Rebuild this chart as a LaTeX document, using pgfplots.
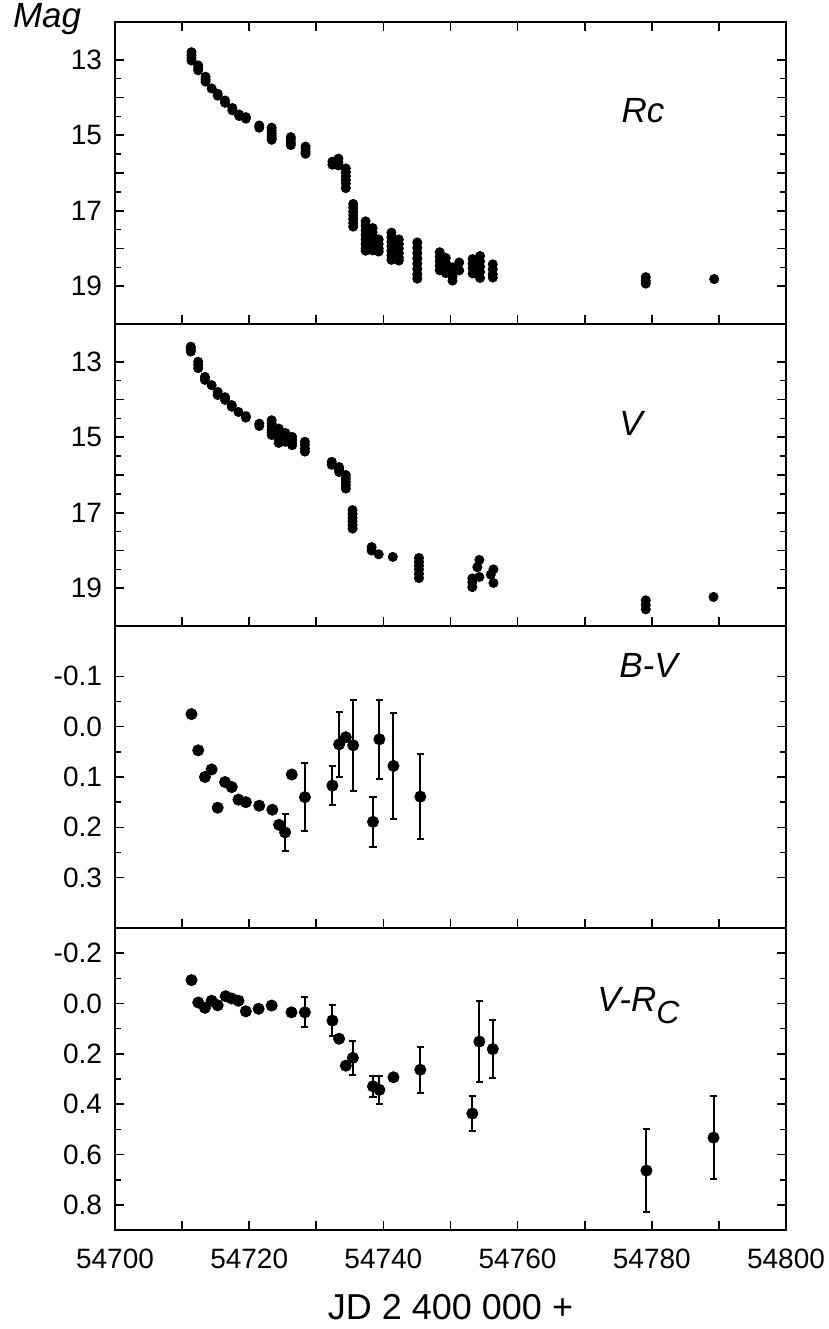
\documentclass[border=0pt]{standalone}
\usepackage{fontspec}
\setmainfont{Liberation Sans}
\usepackage{pgfplots}
\pgfplotsset{compat=1.18}

% Photometry of the outburst: Rc and V light curves, B-V and V-Rc colours
\pgfplotstableread{
x y
54711.4 12.80
54711.4 12.88
54711.4 12.95
54711.4 13.02
54712.4 13.15
54712.4 13.22
54712.4 13.28
54713.5 13.45
54713.5 13.52
54713.5 13.58
54714.4 13.76
54715.3 13.90
54715.3 13.95
54716.4 14.08
54716.4 14.14
54717.5 14.28
54717.5 14.34
54718.5 14.45
54718.5 14.49
54719.5 14.52
54719.5 14.56
54721.5 14.74
54721.5 14.80
54723.35 14.80
54723.35 14.88
54723.35 14.95
54723.35 15.02
54723.35 15.08
54723.35 15.12
54726.2 15.05
54726.2 15.12
54726.2 15.20
54726.2 15.26
54728.4 15.30
54728.4 15.36
54728.4 15.44
54728.4 15.49
54732.4 15.70
54732.4 15.78
54733.3 15.62
54733.3 15.72
54733.3 15.80
54734.4 15.88
54734.4 15.98
54734.4 16.08
54734.4 16.18
54734.4 16.28
54734.4 16.40
54735.5 16.82
54735.5 16.92
54735.5 17.02
54735.5 17.12
54735.5 17.22
54735.5 17.32
54735.5 17.42
54737.35 17.28
54737.35 17.40
54737.35 17.52
54737.35 17.64
54737.35 17.76
54737.35 17.88
54737.35 18.00
54737.35 18.06
54738.4 17.46
54738.4 17.58
54738.4 17.70
54738.4 17.82
54738.4 17.94
54738.4 18.05
54739.3 17.76
54739.3 17.88
54739.3 18.00
54739.3 18.08
54741.2 17.58
54741.2 17.70
54741.2 17.82
54741.2 17.94
54741.2 18.06
54741.2 18.18
54741.2 18.30
54742.3 17.76
54742.3 17.88
54742.3 18.00
54742.3 18.12
54742.3 18.24
54742.3 18.32
54745.05 17.84
54745.05 17.98
54745.05 18.12
54745.05 18.26
54745.05 18.40
54745.05 18.54
54745.05 18.68
54745.05 18.80
54748.4 18.10
54748.4 18.22
54748.4 18.34
54748.4 18.46
54748.4 18.58
54749.3 18.25
54749.3 18.38
54749.3 18.50
54749.3 18.65
54750.3 18.50
54750.3 18.62
54750.3 18.74
54750.3 18.85
54751.3 18.37
54751.3 18.58
54753.3 18.28
54753.3 18.40
54753.3 18.52
54753.3 18.66
54754.4 18.20
54754.4 18.34
54754.4 18.48
54754.4 18.62
54754.4 18.78
54756.3 18.42
54756.3 18.55
54756.3 18.68
54756.3 18.77
54779.1 18.76
54779.1 18.86
54779.1 18.93
54789.3 18.81
}\Rcdata

\pgfplotstableread{
x y
54711.3 12.60
54711.3 12.67
54711.3 12.73
54712.4 13.00
54712.4 13.08
54712.4 13.17
54713.4 13.40
54713.4 13.48
54714.4 13.62
54715.3 13.80
54715.3 13.88
54716.4 13.94
54716.4 14.01
54717.4 14.15
54717.4 14.19
54718.4 14.33
54719.5 14.44
54719.5 14.48
54721.5 14.64
54721.5 14.70
54723.35 14.55
54723.35 14.63
54723.35 14.71
54723.35 14.79
54723.35 14.87
54723.35 14.94
54724.4 14.77
54724.4 14.86
54724.4 14.95
54724.4 15.05
54724.4 15.15
54725.4 14.89
54725.4 14.98
54725.4 15.06
54725.4 15.12
54726.4 14.99
54726.4 15.08
54726.4 15.16
54726.4 15.21
54728.3 15.12
54728.3 15.20
54728.3 15.30
54728.3 15.38
54732.3 15.65
54732.3 15.73
54733.4 15.79
54733.4 15.86
54733.4 15.92
54734.4 16.00
54734.4 16.09
54734.4 16.18
54734.4 16.27
54734.4 16.36
54735.4 16.93
54735.4 17.03
54735.4 17.13
54735.4 17.23
54735.4 17.33
54735.4 17.42
54738.25 17.91
54738.25 18.00
54739.3 18.10
54741.4 18.17
54745.3 18.20
54745.3 18.30
54745.3 18.40
54745.3 18.50
54745.3 18.62
54745.3 18.73
54753.25 18.74
54753.25 18.84
54753.25 18.97
54754.0 18.44
54754.3 18.25
54754.3 18.70
54756.0 18.64
54756.4 18.50
54756.4 18.86
54779.1 19.32
54779.1 19.44
54779.1 19.56
54789.2 19.23
}\Vdata

% B-V: points without error bars
\pgfplotstableread{
x y
54711.4 -0.025
54712.4 0.047
54713.4 0.100
54714.4 0.085
54715.3 0.161
54716.4 0.110
54717.4 0.120
54718.4 0.145
54719.5 0.150
54721.5 0.157
54723.45 0.165
54724.45 0.195
54726.35 0.095
54734.4 0.021
}\BVa

% B-V: points with error bars
\pgfplotstableread{
x y e
54725.35 0.210 0.037
54728.3 0.140 0.068
54732.4 0.117 0.038
54733.4 0.035 0.064
54735.5 0.037 0.090
54738.45 0.189 0.050
54739.4 0.025 0.078
54741.5 0.078 0.105
54745.5 0.139 0.084
}\BVb

% V-Rc: points without error bars
\pgfplotstableread{
x y
54711.4 -0.093
54712.4 -0.004
54713.4 0.017
54714.4 -0.011
54715.3 0.007
54716.5 -0.029
54717.4 -0.020
54718.4 -0.011
54719.5 0.031
54721.4 0.021
54723.35 0.008
54726.3 0.035
54733.4 0.140
54734.4 0.247
54741.5 0.293
}\VRa

% V-Rc: points with error bars
\pgfplotstableread{
x y e
54728.3 0.035 0.059
54732.4 0.068 0.061
54735.45 0.216 0.067
54738.45 0.329 0.041
54739.4 0.343 0.056
54745.5 0.263 0.092
54753.25 0.437 0.068
54754.3 0.151 0.161
54756.3 0.181 0.114
54779.2 0.664 0.164
54789.2 0.533 0.165
}\VRb

\tikzset{lab/.style={font=\fontsize{17.5}{20}\selectfont\itshape}}

\pgfplotsset{
  panel/.style={
    width=335.5pt, height=151pt, scale only axis,
    xmin=54700, xmax=54800, y dir=reverse,
    scaled x ticks=false, scaled y ticks=false,
    axis line style={line width=1.3pt},
    every tick/.style={black, line width=0.8pt},
    major tick length=4.5pt, minor tick length=3pt,
    tick align=inside,
    xtick={54700,54710,...,54800}, minor x tick num=1,
    xticklabels={},
    xtick pos=bottom, ytick pos=both,
    tick label style={font=\fontsize{14}{16}\selectfont},
    yticklabel style={xshift=-3pt},
    xticklabel style={yshift=-6pt},
    clip=false,
  },
  mag/.style={
    panel, ymin=12, ymax=20,
    ytick={13,14,...,19}, minor y tick num=1,
    yticklabels={13,,15,,17,,19},
  },
  smalldot/.style={only marks, mark=*, mark size=2.3pt, black, mark options={fill=black}},
  bigdot/.style={only marks, mark=*, mark size=2.8pt, black, mark options={fill=black}},
  errdot/.style={bigdot,
    error bars/.cd, y dir=both, y explicit, error mark=-,
    error bar style={line width=1pt, black},
    error mark options={rotate=90, mark size=1.8pt, line width=1pt, black}},
}

\begin{document}
\begin{tikzpicture}
% Rc light curve
\begin{axis}[mag, at={(0pt,0pt)}, anchor=north west, xtick pos=both]
  \addplot[smalldot] table[x=x,y=y] {\Rcdata};
  \node[lab] at (axis cs:54778.7,14.34) {Rc};
  \node[lab, anchor=base west]
    at ([xshift=-54.5pt,yshift=-2.5pt]rel axis cs:0,1) {Mag};
\end{axis}
% V light curve
\begin{axis}[mag, at={(0pt,-151pt)}, anchor=north west]
  \addplot[smalldot] table[x=x,y=y] {\Vdata};
  \node[lab] at (axis cs:54776.9,14.63) {V};
\end{axis}
% B-V colour
\begin{axis}[panel, at={(0pt,-302pt)}, anchor=north west,
  ymin=-0.2, ymax=0.4,
  ytick={-0.1,0,0.1,0.2,0.3}, minor y tick num=1,
  yticklabels={-0.1,0.0,0.1,0.2,0.3}]
  \addplot[bigdot] table[x=x,y=y] {\BVa};
  \addplot[errdot] table[x=x,y=y,y error=e] {\BVb};
  \node[lab] at (axis cs:54779.5,-0.122) {B-V};
\end{axis}
% V-Rc colour
\begin{axis}[panel, at={(0pt,-453pt)}, anchor=north west,
  ymin=-0.3, ymax=0.9,
  ytick={-0.2,0,0.2,0.4,0.6,0.8}, minor y tick num=1,
  yticklabels={-0.2,0.0,0.2,0.4,0.6,0.8},
  xticklabels={54700,,54720,,54740,,54760,,54780,,54800},
  xlabel={JD 2 400 000 +},
  xlabel style={font=\fontsize{18}{20}\selectfont, yshift=-6pt}]
  \addplot[bigdot] table[x=x,y=y] {\VRa};
  \addplot[errdot] table[x=x,y=y,y error=e] {\VRb};
  \node[lab] at (axis cs:54778,0.008) {V-R\raisebox{-6pt}{\fontsize{16}{18}\selectfont C}};
\end{axis}
\pgfresetboundingbox
\useasboundingbox (-57.5pt,11pt) rectangle (357pt,-653.5pt);
\end{tikzpicture}
\end{document}
